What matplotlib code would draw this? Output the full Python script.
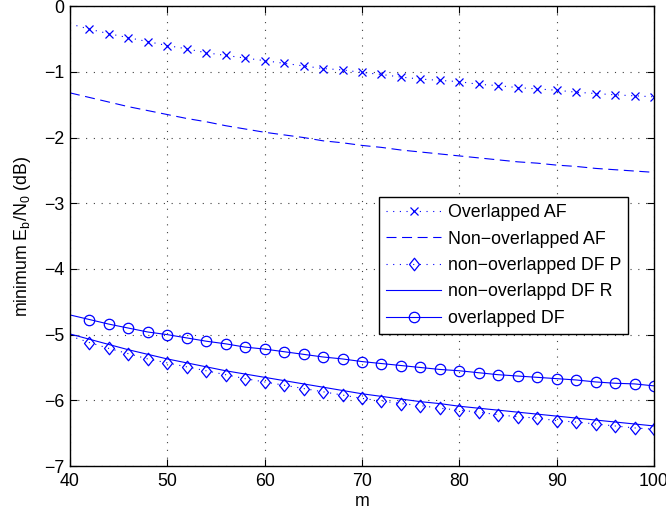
import matplotlib
matplotlib.use("Agg")
import matplotlib.pyplot as plt
from matplotlib.path import Path
import numpy as np

m = list(range(40, 101, 2))

overlapped_af = [-0.27, -0.35, -0.42, -0.48, -0.54, -0.60, -0.65, -0.71, -0.75, -0.79, -0.83,
                 -0.87, -0.91, -0.95, -0.97, -1.01, -1.04, -1.08, -1.11, -1.13, -1.15,
                 -1.19, -1.21, -1.24, -1.26, -1.28, -1.31, -1.33, -1.35, -1.365, -1.38]
non_overlapped_af = [-1.32, -1.39, -1.46, -1.53, -1.59, -1.65, -1.71, -1.76, -1.82, -1.87, -1.92,
                     -1.96, -2.00, -2.05, -2.08, -2.12, -2.15, -2.19, -2.22, -2.25, -2.28,
                     -2.31, -2.34, -2.37, -2.39, -2.42, -2.44, -2.47, -2.49, -2.51, -2.53]
non_overlapped_df_p = [-5.02, -5.12, -5.21, -5.29, -5.37, -5.43, -5.49, -5.55, -5.61, -5.67, -5.72,
                       -5.77, -5.82, -5.87, -5.92, -5.97, -6.01, -6.05, -6.08, -6.12, -6.15,
                       -6.18, -6.22, -6.25, -6.27, -6.31, -6.33, -6.36, -6.39, -6.42, -6.44]
non_overlapped_df_r = [-4.99, -5.07, -5.15, -5.23, -5.30, -5.37, -5.43, -5.49, -5.55, -5.60, -5.65,
                       -5.70, -5.75, -5.80, -5.85, -5.90, -5.94, -5.98, -6.02, -6.05, -6.09,
                       -6.12, -6.15, -6.18, -6.21, -6.24, -6.27, -6.30, -6.33, -6.36, -6.39]
overlapped_df = [-4.70, -4.77, -4.84, -4.90, -4.96, -5.00, -5.05, -5.10, -5.14, -5.19, -5.22,
                 -5.26, -5.30, -5.34, -5.37, -5.41, -5.44, -5.47, -5.50, -5.53, -5.55,
                 -5.58, -5.61, -5.63, -5.65, -5.67, -5.69, -5.72, -5.74, -5.75, -5.78]

labels = ["Overlapped AF", "Non\u2212overlapped AF", "non\u2212overlapped DF P",
          "non\u2212overlappd DF R", "overlapped DF"]
yticklabels = ["\u22127", "\u22126", "\u22125", "\u22124", "\u22123", "\u22122", "\u22121", "0"]

plt.rcParams['font.family'] = ['Liberation Sans', 'DejaVu Sans']
fig = plt.figure(figsize=(6.66, 5.11), dpi=100)
ax = fig.add_axes([0.105, 0.088, 0.877, 0.900])

blue = (0, 0, 1)
me = slice(1, None)
# MATLAB-like diamond (slightly taller than wide)
diamond = Path([(0, 1), (0.8, 0), (0, -1), (-0.8, 0), (0, 1)],
               [Path.MOVETO, Path.LINETO, Path.LINETO, Path.LINETO, Path.CLOSEPOLY])
dots = (0, (1, 5))

ax.plot(m, overlapped_af, linestyle=dots, color=blue, lw=0.8, marker='x', ms=5.5,
        markevery=me, mew=0.9, label=labels[0])
ax.plot(m, non_overlapped_af, linestyle=(0, (9, 5)), color=blue, lw=0.8, label=labels[1])
ax.plot(m, non_overlapped_df_p, linestyle=dots, color=blue, lw=0.8, marker=diamond, ms=9,
        markevery=me, mfc='none', mew=0.9, label=labels[2])
ax.plot(m, non_overlapped_df_r, linestyle='-', color=blue, lw=0.8, label=labels[3])
ax.plot(m, overlapped_df, linestyle='-', color=blue, lw=0.8, marker='o', ms=7.5,
        markevery=me, mfc='none', mew=0.9, label=labels[4])

fs = 12.8
ax.set_xlim(40, 100)
ax.set_ylim(-7, 0)
ax.set_xticks(range(40, 101, 10))
ax.set_yticks(range(-7, 1))
ax.set_yticklabels(yticklabels)
ax.grid(True, linestyle=(0, (1, 6)), color='#404040', lw=0.8)
ax.tick_params(direction='in', top=True, right=True, labelsize=fs, length=5, width=0.8)
ax.tick_params(axis='x', pad=5)
ax.tick_params(axis='y', pad=4)
for s in ax.spines.values():
    s.set_linewidth(1.0)
ax.set_xlabel("m", fontsize=fs, labelpad=2)
ax.set_ylabel("minimum E$_\\mathregular{b}$/N$_\\mathregular{0}$ (dB)", fontsize=fs, labelpad=8)

leg = ax.legend(loc='upper left', bbox_to_anchor=(379 / 666, 1 - 197 / 511),
                bbox_transform=fig.transFigure, fontsize=fs,
                frameon=True, fancybox=False, edgecolor='black', framealpha=1,
                handlelength=3.1, borderpad=0.4, labelspacing=0.53, handletextpad=0.38,
                borderaxespad=0)
leg.get_frame().set_linewidth(1.0)

fig.savefig("out.png", dpi=100)
